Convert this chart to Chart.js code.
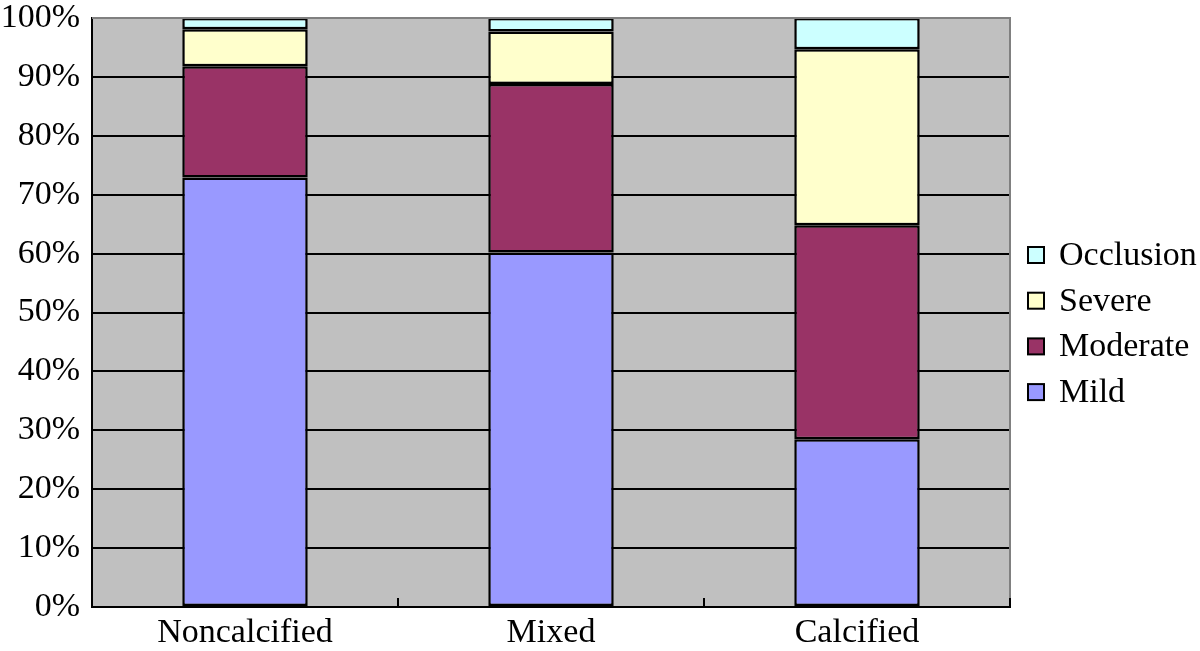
<!DOCTYPE html>
<html>
<head>
<meta charset="utf-8">
<script src="https://cdn.jsdelivr.net/npm/chart.js@4.4.1/dist/chart.umd.min.js"></script>
<style>
  html, body { margin: 0; padding: 0; background: #fff; }
  #wrap { width: 1200px; height: 651px; }
</style>
</head>
<body>
<div id="wrap"><canvas id="chart" width="1200" height="651"></canvas></div>
<script>
// percent of lesions by plaque type
const categories = ['Noncalcified', 'Mixed', 'Calcified'];
const mild = [72.9, 60.2, 28.5];
const moderate = [18.9, 28.6, 36.3];
const severe = [6.3, 8.9, 29.9];
const occlusion = [1.9, 2.3, 5.3];
const yTicks = [0, 10, 20, 30, 40, 50, 60, 70, 80, 90, 100];

const FONT = 'Liberation Serif, Times New Roman, serif';
const FSIZE = 34;

// gray plot background, top/right frame, small category ticks, legend
const framePlugin = {
    id: 'frame',
    beforeDraw(chart) {
        const a = chart.chartArea, ctx = chart.ctx;
        ctx.save();
        ctx.fillStyle = '#c0c0c0';
        ctx.fillRect(a.left, a.top, a.right - a.left, a.bottom - a.top);
        ctx.restore();
    },
    afterDraw(chart) {
        const a = chart.chartArea, ctx = chart.ctx;
        ctx.save();
        ctx.strokeStyle = '#808080';
        ctx.lineWidth = 2;
        ctx.beginPath();
        ctx.moveTo(a.left, a.top);
        ctx.lineTo(a.right, a.top);
        ctx.lineTo(a.right, a.bottom);
        ctx.stroke();

        // category separator ticks on the x axis
        const x = chart.scales.x;
        ctx.strokeStyle = '#000';
        ctx.lineWidth = 2;
        for (let i = 0; i < categories.length; i++) {
            const px = Math.round(x.getPixelForValue(i + 0.5));
            ctx.beginPath();
            ctx.moveTo(px, a.bottom);
            ctx.lineTo(px, a.bottom - 9);
            ctx.stroke();
        }
        ctx.beginPath();
        ctx.moveTo(a.left, a.bottom);
        ctx.lineTo(a.right + 1, a.bottom);
        ctx.stroke();

        // legend, reversed order
        const ds = chart.data.datasets.slice().reverse();
        ctx.font = FSIZE + 'px ' + FONT;
        ctx.textBaseline = 'middle';
        ds.forEach((d, i) => {
            const cy = 255 + i * 45.7;
            ctx.fillStyle = d.backgroundColor;
            ctx.fillRect(1028, cy - 8, 16, 16);
            ctx.strokeStyle = '#000';
            ctx.lineWidth = 2;
            ctx.strokeRect(1028, cy - 8, 16, 16);
            ctx.fillStyle = '#000';
            ctx.fillText(d.label, 1059, cy + 1);
        });
        ctx.restore();
    }
};

const barStyle = { borderColor: '#000', borderWidth: 2.5, borderSkipped: false,
                   barPercentage: 0.41, categoryPercentage: 1 };

new Chart(document.getElementById('chart'), {
    type: 'bar',
    data: {
        labels: categories,
        datasets: [
            { label: 'Mild', data: mild, backgroundColor: '#9999ff', ...barStyle },
            { label: 'Moderate', data: moderate, backgroundColor: '#993366', ...barStyle },
            { label: 'Severe', data: severe, backgroundColor: '#ffffcc', ...barStyle },
            { label: 'Occlusion', data: occlusion, backgroundColor: '#ccffff', ...barStyle }
        ]
    },
    options: {
        responsive: false,
        animation: false,
        layout: { padding: { top: 18, right: 190, left: 0, bottom: 0 } },
        plugins: { legend: { display: false }, tooltip: { enabled: false } },
        scales: {
            x: {
                stacked: true,
                grid: { display: false, drawTicks: false },
                border: { display: true, color: '#000', width: 2 },
                ticks: { color: '#000', font: { family: FONT, size: FSIZE }, padding: 6 },
                afterFit: s => { s.height = 44; s.paddingLeft = 0; s.paddingRight = 0; }
            },
            y: {
                stacked: true,
                min: 0, max: 100,
                afterBuildTicks: s => { s.ticks = yTicks.map(v => ({ value: v })); },
                grid: { color: '#000', lineWidth: 2, drawTicks: false },
                border: { display: true, color: '#000', width: 2 },
                ticks: { color: '#000', font: { family: FONT, size: FSIZE }, padding: 12,
                         callback: v => v + '%' },
                afterFit: s => { s.width = 92; s.paddingTop = 0; s.paddingBottom = 0; }
            }
        }
    },
    plugins: [framePlugin]
});
</script>
</body>
</html>
